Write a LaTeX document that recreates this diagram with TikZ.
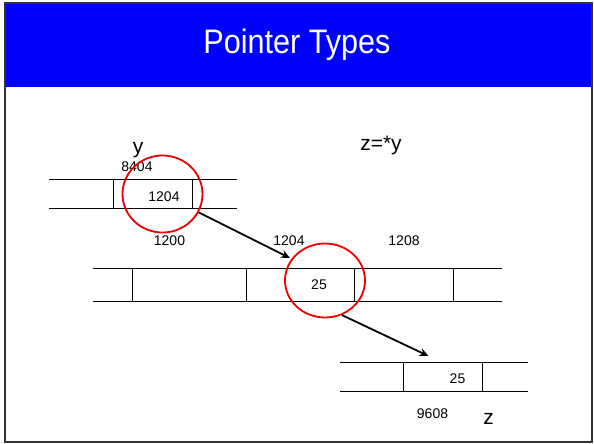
\documentclass[tikz,border=0pt]{standalone}
\usepackage{fontspec}
\setmainfont{Liberation Sans}
\usetikzlibrary{arrows.meta,shapes.geometric,positioning}
\definecolor{titleblue}{RGB}{0,0,255}
\definecolor{ringred}{RGB}{238,0,0}

\begin{document}
\begin{tikzpicture}[x=1pt,y=-1pt]

		\tikzset{line/.style={draw,line width=1pt}}
		\tikzset{arrow/.style={draw,line width=1.8pt,-{Stealth[length=9pt,width=8pt]}}}
		\tikzset{ring/.style={shape=ellipse,draw=ringred,line width=1.8pt,minimum width=80pt,minimum height=77pt,inner sep=0pt}}
		\tikzset{num/.style={inner sep=0pt,font=\fontsize{14}{16}\selectfont}}
		\tikzset{var/.style={inner sep=0pt,font=\fontsize{21}{24}\selectfont}}

		\useasboundingbox (0,0) rectangle (594,444);

		% slide frame and title
		\fill[titleblue] (5,3) rectangle (592,87);
		\draw[line width=1.5pt,black!80] (5,3) rectangle (592,442);
		\node[text=white,inner sep=0pt,font=\fontsize{34}{40}\selectfont] (title) at (297,45) {\scalebox{0.9}[1]{Pointer Types}};

		% memory rows: y, the block at 1200, z
		\draw[line] (49,179.5) -- (237,179.5) (49,208.5) -- (237,208.5);
		\foreach \x in {113.5,192.5} \draw[line] (\x,179.5) -- (\x,208.5);

		\draw[line] (93,268) -- (502,268) (93,301) -- (502,301);
		\foreach \x in {132.5,246.5,354.5,453.5} \draw[line] (\x,268) -- (\x,301);

		\draw[line] (340,362) -- (528,362) (340,391) -- (528,391);
		\foreach \x in {403.5,482.5} \draw[line] (\x,362) -- (\x,391);

		\node[var] (y) at (138,150) {y};
		\node[num] (ya) at (137,167) {8404};
		\node[num] (yv) at (164,197) {1204};

		\node[var] (expr) at (381,145) {z=*y};

		\node[num] (a0) at (169.5,241) {1200};
		\node[num] (a1) at (289,241) {1204};
		\node[num] (a2) at (404,241) {1208};
		\node[num] (mv) at (319,285) {25};

		\node[num] (zv) at (457.5,379) {25};
		\node[num] (za) at (432.5,413.5) {9608};
		\node[var] (z) at (488.5,419) {z};

		\node[ring] (r1) at (162.5,194) {};
		\node[ring,minimum height=74pt] (r2) at (325,280.5) {};

		\coordinate (p1) at (290,258);
		\coordinate (p2) at (428.5,356);

		\path[arrow] (r1.-27) -- (p1);
		\path[arrow] (r2.-64) -- (p2);

	\end{tikzpicture}
\end{document}
